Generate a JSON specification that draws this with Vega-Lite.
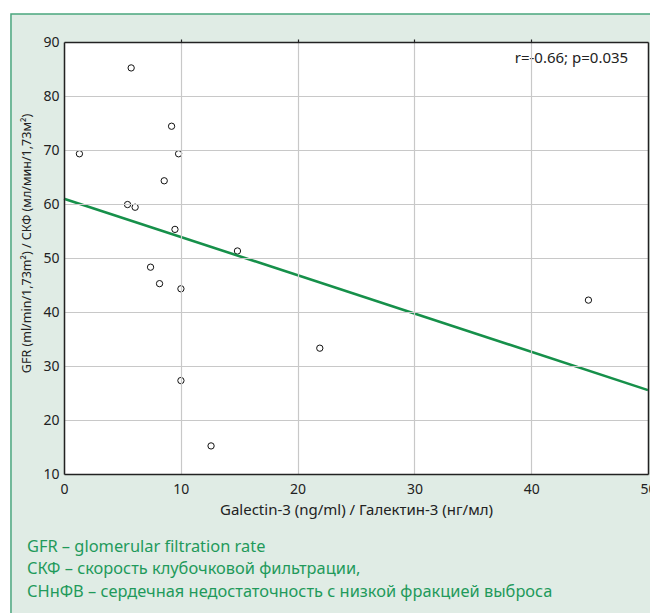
{
  "$schema": "https://vega.github.io/schema/vega-lite/v6.json",
  "autosize": {"type": "none"},
  "width": 584,
  "height": 432,
  "padding": {"left": 64, "top": 42, "right": 2, "bottom": 139},
  "background": "#ffffff",
  "config": {"view": {"stroke": null}, "font": "Noto Sans"},
  "data": {
    "values": [
      {"gal": 5.75, "gfr": 85.2},
      {"gal": 9.21, "gfr": 74.4},
      {"gal": 1.32, "gfr": 69.3},
      {"gal": 9.81, "gfr": 69.3},
      {"gal": 8.58, "gfr": 64.3},
      {"gal": 5.44, "gfr": 59.9},
      {"gal": 6.09, "gfr": 59.4},
      {"gal": 9.5, "gfr": 55.3},
      {"gal": 14.85, "gfr": 51.3},
      {"gal": 7.41, "gfr": 48.3},
      {"gal": 8.18, "gfr": 45.25},
      {"gal": 10.01, "gfr": 44.3},
      {"gal": 21.9, "gfr": 33.3},
      {"gal": 10.01, "gfr": 27.3},
      {"gal": 12.59, "gfr": 15.2},
      {"gal": 44.9, "gfr": 42.2}
    ]
  },
  "resolve": {"axis": {"x": "independent", "y": "independent"}},
  "layer": [
    {
      "data": {"values": [{}]},
      "mark": {"type": "rect", "fill": "#e0ece5", "stroke": "#4aa67e", "strokeWidth": 1.5},
      "encoding": {
        "x": {"datum": -4.54, "type": "quantitative", "scale": {"domain": [0, 50], "nice": false, "zero": false}, "axis": null},
        "x2": {"datum": 60},
        "y": {"datum": 95.19, "type": "quantitative", "scale": {"domain": [10, 90], "nice": false, "zero": false}, "axis": null},
        "y2": {"datum": -20}
      }
    },
    {
      "data": {"values": [{}]},
      "mark": {"type": "rect", "fill": "#ffffff"},
      "encoding": {
        "x": {"datum": 0, "type": "quantitative", "axis": {"orient": "top", "labels": false, "ticks": true, "tickSize": 3, "tickColor": "#222222", "tickWidth": 1.2, "values": [10, 20, 30, 40], "domain": true, "domainColor": "#222222", "domainWidth": 1.5, "grid": false, "title": null, "zindex": 2}},
        "x2": {"datum": 50},
        "y": {"datum": 90, "type": "quantitative", "axis": {"orient": "right", "labels": false, "ticks": false, "domain": true, "domainColor": "#222222", "domainWidth": 1.5, "grid": false, "title": null, "zindex": 2}},
        "y2": {"datum": 10}
      }
    },
    {
      "mark": {"type": "point", "shape": "circle", "filled": false, "stroke": "#111111", "strokeWidth": 1, "size": 40, "opacity": 1},
      "encoding": {
        "x": {
          "field": "gal", "type": "quantitative",
          "axis": {
            "orient": "bottom", "values": [0, 10, 20, 30, 40, 50], "grid": true, "gridColor": "#c8c8c8", "gridWidth": 1.2,
            "domain": true, "domainColor": "#222222", "domainWidth": 1.5, "ticks": false,
            "labelPadding": 8, "labelFontSize": 14, "labelColor": "#222222", "labelFlush": false,
            "title": "Galectin-3 (ng/ml) / Галектин-3 (нг/мл)", "titleFontSize": 15, "titleFontWeight": "normal", "titleColor": "#222222", "titlePadding": 6,
            "zindex": 1
          }
        },
        "y": {
          "field": "gfr", "type": "quantitative",
          "axis": {
            "orient": "left", "values": [10, 20, 30, 40, 50, 60, 70, 80, 90], "grid": true, "gridColor": "#c8c8c8", "gridWidth": 1.2,
            "domain": true, "domainColor": "#222222", "domainWidth": 1.5, "ticks": false,
            "labelPadding": 5, "labelFontSize": 14, "labelColor": "#222222", "labelFlush": false,
            "title": "GFR (ml/min/1,73m²) / СКФ (мл/мин/1,73м²)", "titleFontSize": 12.5, "titleFontWeight": "normal", "titleColor": "#222222", "titlePadding": 9, "titleY": 201,
            "zindex": 1
          }
        }
      }
    },
    {
      "transform": [{"regression": "gfr", "on": "gal", "extent": [0, 50]}],
      "mark": {"type": "line", "color": "#16904a", "strokeWidth": 2.6},
      "encoding": {
        "x": {"field": "gal", "type": "quantitative", "axis": null},
        "y": {"field": "gfr", "type": "quantitative", "axis": null}
      }
    },
    {
      "data": {"values": [{"label": "r=-0.66; p=0.035"}]},
      "mark": {"type": "text", "align": "right", "baseline": "middle", "fontSize": 15, "color": "#222222"},
      "encoding": {
        "x": {"datum": 48.3, "type": "quantitative", "axis": null},
        "y": {"datum": 87.0, "type": "quantitative", "axis": null},
        "text": {"field": "label"}
      }
    },
    {
      "data": {"values": [{"note": ["GFR – glomerular filtration rate", "СКФ – скорость клубочковой фильтрации,", "СНнФВ – сердечная недостаточность с низкой фракцией выброса"]}]},
      "mark": {"type": "text", "align": "left", "baseline": "alphabetic", "fontSize": 16.4, "lineHeight": 22.5, "color": "#1f9a5b"},
      "encoding": {
        "x": {"datum": -3.17, "type": "quantitative", "axis": null},
        "y": {"datum": -4.44, "type": "quantitative", "axis": null},
        "text": {"field": "note"}
      }
    }
  ]
}
